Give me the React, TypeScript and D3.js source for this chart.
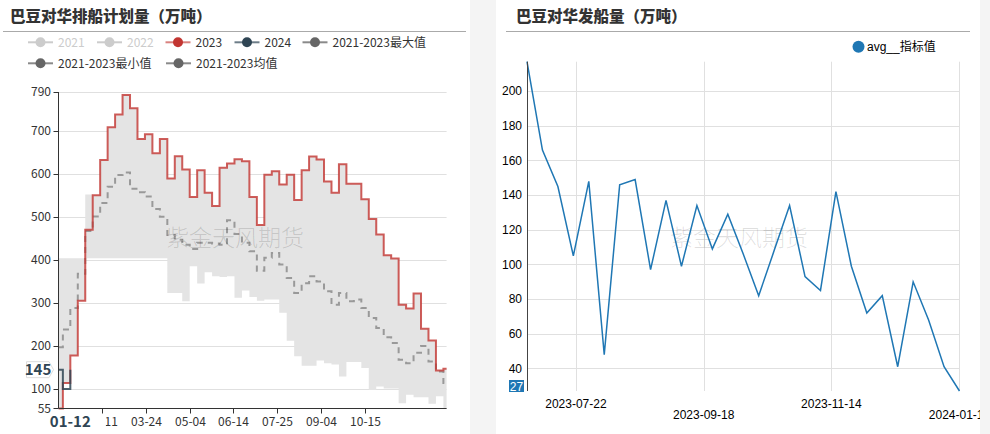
import React from "react";
import * as d3 from "d3";

// ---------- Left chart data ----------
const leftTitle = "巴豆对华排船计划量（万吨）";
const leftLegend = ["2021", "2022", "2023", "2024", "2021-2023最大值", "2021-2023最小值", "2021-2023均值"];
const leftYTicks = [55, 100, 200, 300, 400, 500, 600, 700, 790];
const leftXTickLabels = ["02-11", "03-24", "05-04", "06-14", "07-25", "09-04", "10-15"];
const pointerX = "01-12";
const pointerY = 145;

const stepDates = [
  "01-01", "01-05", "01-12", "01-19", "01-26", "02-02", "02-09", "02-16", "02-23", "03-02", "03-09",
  "03-16", "03-23", "03-30", "04-06", "04-13", "04-20", "04-27", "05-04", "05-11", "05-18", "05-25",
  "06-01", "06-08", "06-15", "06-22", "06-29", "07-06", "07-13", "07-20", "07-27", "08-03", "08-10",
  "08-17", "08-24", "08-31", "09-07", "09-14", "09-21", "09-28", "10-05", "10-12", "10-19", "10-26",
  "11-02", "11-09", "11-16", "11-23", "11-30", "12-07", "12-14", "12-21", "12-28",
];
const series2023 = [
  55, 114, 178, 305, 470, 550, 632, 708, 738, 783, 752, 681, 692, 648, 681, 589, 641, 610, 546, 608, 556,
  525, 614, 624, 634, 629, 546, 481, 598, 606, 575, 598, 539, 608, 640, 633, 582, 556, 622, 577, 577,
  541, 495, 459, 411, 403, 296, 287, 322, 240, 213, 143, 147,
];
const series2024 = [145, 100, 145];
const seriesMax = [
  404, 404, 404, 404, 552, 550, 632, 708, 738, 783, 752, 681, 692, 648, 681, 589, 641, 610, 546, 608, 556,
  525, 614, 624, 634, 629, 546, 481, 598, 606, 575, 598, 539, 608, 640, 633, 582, 556, 622, 577, 577,
  541, 495, 459, 411, 403, 296, 287, 322, 240, 213, 143, 147,
];
const seriesMin = [
  55, 114, 178, 305, 404, 404, 404, 404, 404, 404, 404, 404, 404, 404, 404, 323, 323, 304, 385, 345, 371,
  362, 360, 362, 312, 329, 314, 305, 308, 308, 277, 212, 176, 154, 154, 166, 160, 157, 129, 163, 163,
  149, 98, 106, 101, 101, 67, 87, 81, 81, 66, 83, 55,
];
const seriesMean = [
  197, 238, 288, 368, 467, 501, 532, 570, 597, 603, 565, 557, 547, 518, 500, 458, 447, 435, 425, 440, 440,
  438, 435, 492, 460, 440, 420, 375, 405, 416, 389, 358, 323, 346, 362, 350, 327, 296, 323, 304, 308,
  288, 265, 242, 220, 207, 168, 160, 184, 200, 164, 141, 114,
];

// ---------- Right chart data ----------
const rightTitle = "巴豆对华发船量（万吨）";
const rightLegend = "avg__指标值";
const shipDates = [
  "2023-06-30", "2023-07-07", "2023-07-14", "2023-07-21", "2023-07-28", "2023-08-04", "2023-08-11",
  "2023-08-18", "2023-08-25", "2023-09-01", "2023-09-08", "2023-09-15", "2023-09-22", "2023-09-29",
  "2023-10-06", "2023-10-13", "2023-10-20", "2023-10-27", "2023-11-03", "2023-11-10", "2023-11-17",
  "2023-11-24", "2023-12-01", "2023-12-08", "2023-12-15", "2023-12-22", "2023-12-29", "2024-01-05",
  "2024-01-12",
];
const shipValues = [
  217, 166, 145, 105, 148, 48, 146, 149, 97, 137, 99, 134, 109, 129, 106, 82, 108, 134, 93, 85, 142, 99,
  72, 82, 41, 90, 68, 41, 27,
];

const watermark = "紫金天风期货";
const CJK = "'Microsoft YaHei', 'Noto Sans CJK SC', 'Noto Sans', sans-serif";
const ARIAL = "'Liberation Sans', Arial, 'Noto Sans CJK SC', sans-serif";

export default function App() {
  const cats = React.useMemo(() => {
    const fmt = d3.utcFormat("%m-%d");
    return d3.utcDays(new Date(Date.UTC(2023, 0, 1)), new Date(Date.UTC(2024, 0, 1))).map(fmt);
  }, []);

  // Left scales
  const xL = d3.scalePoint<string>().domain(cats).range([58.6, 446.6]);
  const yL = d3.scaleLinear().domain([55, 790]).range([408.4, 92]);
  const lastCat = cats[cats.length - 1];

  type P = { c: string; v: number; lo?: number };
  const stepPts = (vals: number[], end?: string): P[] => {
    const pts: P[] = vals.map((v, i) => ({ c: stepDates[i], v }));
    if (end) pts.push({ c: end, v: vals[vals.length - 1] });
    return pts;
  };
  const lineL = d3
    .line<P>()
    .x((d) => xL(d.c) as number)
    .y((d) => yL(d.v))
    .curve(d3.curveStepAfter);
  const bandPts: P[] = seriesMax.map((v, i) => ({ c: stepDates[i], v, lo: seriesMin[i] }));
  bandPts.push({ c: lastCat, v: seriesMax[seriesMax.length - 1], lo: seriesMin[seriesMin.length - 1] });
  const bandArea = d3
    .area<P>()
    .x((d) => xL(d.c) as number)
    .y0((d) => yL(d.lo as number))
    .y1((d) => yL(d.v))
    .curve(d3.curveStepAfter);

  const plotL = { x0: 58.6, x1: 446.6, y0: 92, y1: 408.4 };

  // Right scales
  const parse = d3.utcParse("%Y-%m-%d");
  const shipPts = shipDates.map((d, i) => ({ t: (parse(d) as Date).getTime(), v: shipValues[i] }));
  const xR = d3
    .scaleLinear()
    .domain(d3.extent(shipPts, (d) => d.t) as [number, number])
    .range([527, 959.5]);
  const yR = d3
    .scaleLinear()
    .domain(d3.extent(shipPts, (d) => d.v) as [number, number])
    .range([391, 61.7]);
  const lineR = d3
    .line<{ t: number; v: number }>()
    .x((d) => xR(d.t))
    .y((d) => yR(d.v));
  const xRTicks = xR.ticks(4);
  const yRTicks = yR.ticks(10);
  const fmtR = d3.utcFormat("%Y-%m-%d");
  const minV = d3.min(shipValues) as number;

  // legend layout (left)
  const legendPos = [
    { x: 40.5, y: 42.3 },
    { x: 109.5, y: 42.3 },
    { x: 178, y: 42.3 },
    { x: 247, y: 42.3 },
    { x: 315, y: 42.3 },
    { x: 40.5, y: 63.3 },
    { x: 178.5, y: 63.3 },
  ];
  const legendColors = [
    { line: "#ccc", dot: "#ccc", text: "#ccc" },
    { line: "#ccc", dot: "#ccc", text: "#ccc" },
    { line: "#d9827f", dot: "#c23531", text: "#333" },
    { line: "#6d7d88", dot: "#2f4554", text: "#333" },
    { line: "#8a8a8a", dot: "#666", text: "#333" },
    { line: "#8a8a8a", dot: "#666", text: "#333" },
    { line: "#8a8a8a", dot: "#666", text: "#333" },
  ];

  const px = xL(pointerX) as number;
  const py = yL(pointerY);

  return (
    <svg
      width={990}
      height={434}
      style={{ position: "absolute", left: 0, top: 0, background: "#fff" }}
    >
      <defs>
        <clipPath id="clipR">
          <rect x={496} y={0} width={484} height={434} />
        </clipPath>
      </defs>
      {/* backgrounds */}
      <rect x={0} y={0} width={990} height={434} fill="#fff" />
      <rect x={470} y={0} width={26} height={434} fill="#f4f4f4" />
      <rect x={980} y={0} width={10} height={434} fill="#f4f4f4" />

      {/* ===== LEFT CHART ===== */}
      <text x={10} y={21.5} fontFamily={CJK} fontSize={15.5} fontWeight={900} fill="#333">
        {leftTitle}
      </text>
      <line x1={3} x2={466} y1={31.5} y2={31.5} stroke="#aaa" strokeWidth={1} />

      {leftLegend.map((name, i) => {
        const p = legendPos[i];
        const c = legendColors[i];
        return (
          <g key={name}>
            <line x1={p.x - 12.5} x2={p.x + 12.5} y1={p.y} y2={p.y} stroke={c.line} strokeWidth={2} />
            <circle cx={p.x} cy={p.y} r={5} fill={c.dot} />
            <text x={p.x + 17.5} y={p.y + 4.3} fontFamily={CJK} fontSize={12} fill={c.text}>
              {name}
            </text>
          </g>
        );
      })}

      {/* grid */}
      {leftYTicks.map((t) => (
        <line
          key={t}
          x1={plotL.x0}
          x2={plotL.x1}
          y1={Math.round(yL(t)) + 0.5}
          y2={Math.round(yL(t)) + 0.5}
          stroke="#e0e0e0"
          strokeWidth={1}
        />
      ))}

      {/* band */}
      <path d={bandArea(bandPts) as string} fill="#e4e4e4" stroke="none" />

      {/* mean dashed */}
      <path
        d={lineL(stepPts(seriesMean, lastCat)) as string}
        fill="none"
        stroke="#999"
        strokeWidth={2}
        strokeDasharray="6,5"
      />
      {/* 2023 */}
      <path
        d={lineL(stepPts(series2023, lastCat)) as string}
        fill="none"
        stroke="#c23531"
        strokeOpacity={0.8}
        strokeWidth={2}
      />
      {/* 2024 */}
      <path
        d={lineL(series2024.map((v, i) => ({ c: stepDates[i], v })).concat([{ c: pointerX, v: series2024[series2024.length - 1] }])) as string}
        fill="none"
        stroke="#2f4554"
        strokeOpacity={0.85}
        strokeWidth={2}
      />

      {/* watermark left */}
      <text
        x={235}
        y={246}
        textAnchor="middle"
        fontFamily={CJK}
        fontSize={23}
        fontWeight={300}
        fill="#000"
        fillOpacity={0.15}
      >
        {watermark}
      </text>

      {/* axes */}
      <line x1={58.5} x2={58.5} y1={plotL.y0} y2={plotL.y1} stroke="#333" strokeWidth={1} />
      <line x1={plotL.x0} x2={plotL.x1} y1={408.5} y2={408.5} stroke="#333" strokeWidth={1} />
      {leftYTicks.map((t) => (
        <g key={"yt" + t}>
          <line x1={53.5} x2={58.5} y1={Math.round(yL(t)) + 0.5} y2={Math.round(yL(t)) + 0.5} stroke="#333" />
          <text
            x={51}
            y={yL(t) + 4.3}
            textAnchor="end"
            fontFamily={CJK}
            fontSize={12}
            fill="#333"
          >
            {t}
          </text>
        </g>
      ))}
      {leftXTickLabels.map((l) => {
        const x = Math.round(xL(l) as number) + 0.5;
        return (
          <g key={"xt" + l}>
            <line x1={x} x2={x} y1={408.5} y2={413.5} stroke="#333" />
            <text x={x} y={425.5} textAnchor="middle" fontFamily={CJK} fontSize={12} fill="#333">
              {l}
            </text>
          </g>
        );
      })}

      {/* axis pointer labels */}
      <rect x={px - 24} y={414} width={(xL(leftXTickLabels[0]) as number) + 3.5 - (px - 24)} height={20} fill="#fff" />
      <text
        x={px}
        y={427}
        textAnchor="middle"
        fontFamily={CJK}
        fontSize={15}
        fontWeight={700}
        fill="#2f4554"
      >
        {pointerX}
      </text>
      <path
        d={`M${26.5},${py - 8} L${49},${py - 8} L${53.5},${py} L${49},${py + 8} L${26.5},${py + 8} Z`}
        fill="#fff"
        stroke="#ddd"
        strokeWidth={1}
      />
      <text
        x={38}
        y={py + 5.5}
        textAnchor="middle"
        fontFamily={CJK}
        fontSize={15}
        fontWeight={700}
        fill="#2f4554"
      >
        {pointerY}
      </text>

      {/* ===== RIGHT CHART ===== */}
      <g clipPath="url(#clipR)">
        <text x={516} y={21.5} fontFamily={CJK} fontSize={15.5} fontWeight={900} fill="#333">
          {rightTitle}
        </text>
        <line x1={506} x2={970} y1={31.5} y2={31.5} stroke="#aaa" strokeWidth={1} />

        <circle cx={858.5} cy={46.7} r={6} fill="#1f77b4" />
        <text x={867} y={51} fontFamily={ARIAL} fontSize={12} fill="#000">
          {rightLegend}
        </text>

        {yRTicks.map((t) => (
          <line
            key={"rg" + t}
            x1={527}
            x2={959.5}
            y1={Math.round(yR(t)) + 0.5}
            y2={Math.round(yR(t)) + 0.5}
            stroke="#e0e0e0"
          />
        ))}
        {xRTicks.map((t) => (
          <line
            key={"rv" + t}
            x1={Math.round(xR(t)) + 0.5}
            x2={Math.round(xR(t)) + 0.5}
            y1={61.7}
            y2={391}
            stroke="#e0e0e0"
          />
        ))}

        <text
          x={739}
          y={246}
          textAnchor="middle"
          fontFamily={CJK}
          fontSize={23}
          fontWeight={300}
          fill="#000"
          fillOpacity={0.12}
        >
          {watermark}
        </text>

        <path d={lineR(shipPts) as string} fill="none" stroke="#1f77b4" strokeWidth={1.5} />

        <line x1={527.5} x2={527.5} y1={61.7} y2={391} stroke="#444" strokeWidth={1} />
        {yRTicks.map((t) => (
          <text
            key={"ry" + t}
            x={522}
            y={yR(t) + 4.3}
            textAnchor="end"
            fontFamily={ARIAL}
            fontSize={12}
            fill="#000"
          >
            {t}
          </text>
        ))}
        <rect x={509} y={380} width={15} height={12} fill="#1f77b4" />
        <text x={516.5} y={390.5} textAnchor="middle" fontFamily={ARIAL} fontSize={12} fill="#fff">
          {minV}
        </text>

        {xRTicks.map((t, i) => (
          <text
            key={"rx" + t}
            x={xR(t)}
            y={i % 2 === 0 ? 407.5 : 419}
            textAnchor="middle"
            fontFamily={ARIAL}
            fontSize={12}
            fill="#000"
          >
            {fmtR(new Date(t))}
          </text>
        ))}
      </g>
    </svg>
  );
}
